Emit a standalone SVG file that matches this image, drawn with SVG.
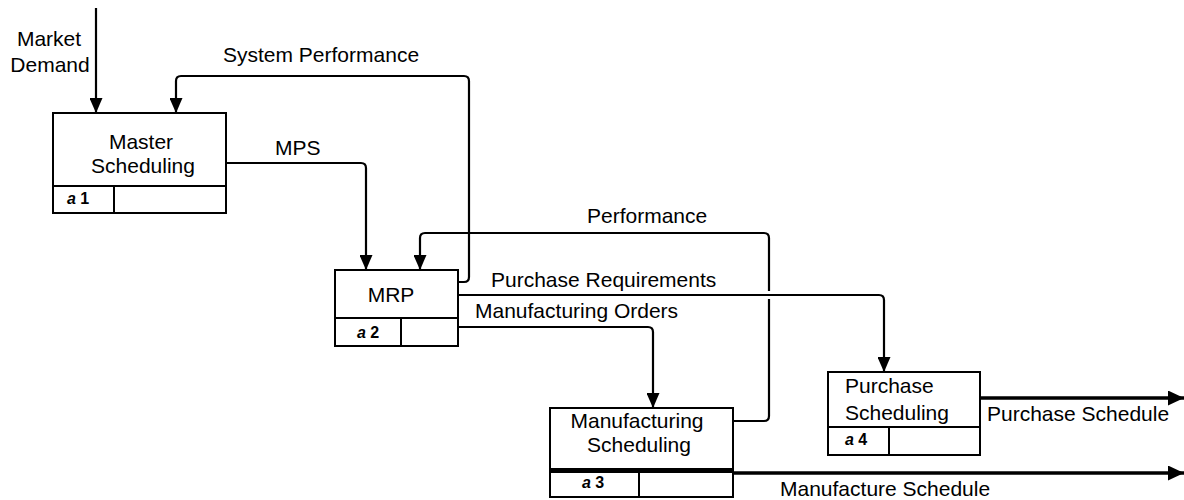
<svg xmlns="http://www.w3.org/2000/svg" width="1184" height="500" viewBox="0 0 1184 500">
<defs>
<style>
text{font-family:"Liberation Sans",Arial,sans-serif;fill:#000}
.lbl{font-size:21px}
.num{font-size:16px;font-weight:bold}
.box{fill:#fff;stroke:#000;stroke-width:2}
.div{stroke:#000;stroke-width:2;fill:none}
.con{fill:none;stroke:#000;stroke-width:2.2}
.out{fill:none;stroke:#000;stroke-width:3.5}
</style>
<marker id="ah" viewBox="0 0 15 13" refX="15" refY="6.5" markerWidth="15" markerHeight="13" markerUnits="userSpaceOnUse" orient="auto">
<path d="M0,0 L15,6.5 L0,13 Z" fill="#000"/>
</marker>
<marker id="ahb" viewBox="0 0 16 15" refX="16" refY="7.5" markerWidth="16" markerHeight="15" markerUnits="userSpaceOnUse" orient="auto">
<path d="M0,0 L16,7.5 L0,15 Z" fill="#000"/>
</marker>
</defs>
<g id="connectors">
<path class="con" d="M96,8 V113" marker-end="url(#ah)"/>
<path class="con" d="M458,282 H464 Q469,282 469,277 V81 Q469,76 464,76 H181 Q176,76 176,81 V113" marker-end="url(#ah)"/>
<path class="con" d="M226,163 H361 Q366,163 366,168 V270" marker-end="url(#ah)"/>
<path class="con" d="M733,421 H764 Q769,421 769,416 V299"/>
<path class="con" d="M769,291 V238 Q769,233 764,233 H425 Q420,233 420,238 V270" marker-end="url(#ah)"/>
<path class="con" d="M458,295 H879 Q884,295 884,300 V372" marker-end="url(#ah)"/>
<path class="con" d="M458,327 H648 Q653,327 653,332 V408" marker-end="url(#ah)"/>
<path class="out" d="M980,398 H1184" marker-end="url(#ahb)"/>
<path class="out" d="M733,473 H1184" marker-end="url(#ahb)"/>
<text class="lbl" x="49" y="46" text-anchor="middle">Market</text>
<text class="lbl" x="50" y="72" text-anchor="middle">Demand</text>
<text class="lbl" x="223" y="62">System Performance</text>
<text class="lbl" x="275" y="155">MPS</text>
<text class="lbl" x="587" y="223">Performance</text>
<text class="lbl" x="491" y="287">Purchase Requirements</text>
<text class="lbl" x="475" y="318">Manufacturing Orders</text>
<text class="lbl" x="987" y="421">Purchase Schedule</text>
<text class="lbl" x="780" y="496">Manufacture Schedule</text>
</g>
<g id="a1">
<rect class="box" x="53" y="113" width="173" height="100"/>
<line class="div" x1="53" y1="186" x2="226" y2="186"/>
<line class="div" x1="114" y1="186" x2="114" y2="213"/>
<text class="lbl" x="141" y="149" text-anchor="middle">Master</text>
<text class="lbl" x="143" y="173" text-anchor="middle">Scheduling</text>
<text class="num" x="67" y="204"><tspan font-style="italic">a</tspan> 1</text>
</g>
<g id="a2">
<rect class="box" x="335" y="270" width="123" height="76"/>
<line class="div" x1="335" y1="318" x2="458" y2="318"/>
<line class="div" x1="401" y1="318" x2="401" y2="346"/>
<text class="lbl" x="391" y="302" text-anchor="middle">MRP</text>
<text class="num" x="357" y="338"><tspan font-style="italic">a</tspan> 2</text>
</g>
<g id="a3">
<rect class="box" x="550" y="408" width="183" height="89"/>
<line stroke="#000" stroke-width="5" x1="550" y1="470.5" x2="733" y2="470.5"/>
<line class="div" x1="639" y1="472" x2="639" y2="497"/>
<text class="lbl" x="637" y="428" text-anchor="middle">Manufacturing</text>
<text class="lbl" x="639" y="452" text-anchor="middle">Scheduling</text>
<text class="num" x="582" y="488"><tspan font-style="italic">a</tspan> 3</text>
</g>
<g id="a4">
<rect class="box" x="828" y="372" width="152" height="83"/>
<line class="div" x1="828" y1="427" x2="980" y2="427"/>
<line class="div" x1="889" y1="427" x2="889" y2="455"/>
<text class="lbl" x="845" y="393">Purchase</text>
<text class="lbl" x="845" y="420">Scheduling</text>
<text class="num" x="845" y="445"><tspan font-style="italic">a</tspan> 4</text>
</g>
</svg>
